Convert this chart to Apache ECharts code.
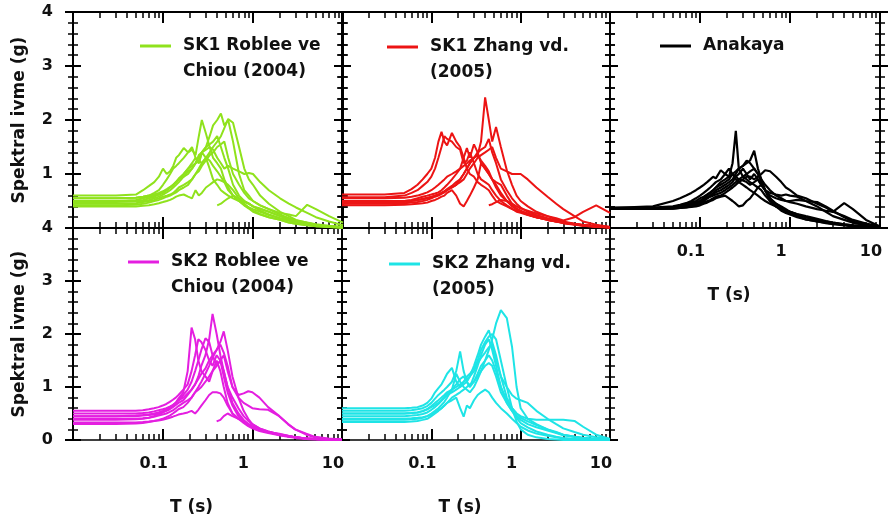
<!DOCTYPE html>
<html><head><meta charset="utf-8">
<script src="https://cdn.jsdelivr.net/npm/echarts@6/dist/echarts.min.js"></script>
<style>html,body{margin:0;padding:0;background:#fff}#c{width:888px;height:524px}</style>
</head><body><div id="c"></div>
<script>
// ---- data (periods in s, spectral acceleration in g) ----
const periods = [0.01,0.03,0.05,0.06,0.07,0.08,0.09,0.1,0.11,0.12,
  0.13,0.14,0.15,0.17,0.19,0.21,0.23,0.25,0.27,0.3,
  0.33,0.36,0.4,0.44,0.48,0.53,0.6,0.7,0.8,0.9,
  1,1.2,1.5,2,2.5,3,4,5,7,10];
const N = null;
const sk1Roblee = [
  [0.50,0.50,0.52,0.55,0.58,0.60,0.62,0.65,0.70,0.75,0.80,0.85,0.90,1.00,1.10,1.20,1.30,1.20,1.40,1.50,1.70,1.90,2.00,2.12,1.90,2.00,1.60,1.00,0.70,0.60,0.50,0.42,0.35,0.25,0.18,0.13,0.08,0.05,0.02,0.01],
  [0.55,0.55,0.56,0.58,0.60,0.65,0.70,0.80,0.90,1.00,1.10,1.15,1.20,1.30,1.40,1.45,1.35,1.70,2.00,1.75,1.50,1.30,1.20,1.10,0.90,0.75,0.60,0.50,0.42,0.36,0.30,0.25,0.20,0.15,0.10,0.08,0.05,0.03,0.02,0.01],
  [0.45,0.45,0.46,0.48,0.50,0.52,0.55,0.58,0.60,0.62,0.65,0.70,0.75,0.80,0.85,0.90,1.00,1.10,1.20,1.30,1.40,1.50,1.60,1.70,1.85,2.02,1.95,1.50,1.10,0.90,0.80,0.60,0.45,0.30,0.22,0.15,0.10,0.06,0.03,0.02],
  [0.60,0.60,0.62,0.70,0.78,0.85,0.95,1.10,1.00,1.05,1.15,1.30,1.35,1.48,1.40,1.50,1.30,1.20,1.40,1.30,1.10,0.90,0.80,0.70,0.65,0.60,0.55,0.50,0.48,0.45,0.40,0.35,0.30,0.22,0.18,0.14,0.10,0.07,0.04,0.02],
  [0.40,0.40,0.40,0.41,0.42,0.44,0.46,0.48,0.50,0.52,0.55,0.58,0.60,0.62,0.58,0.55,0.70,0.60,0.65,0.75,0.80,0.85,0.90,0.88,0.85,0.80,0.70,0.55,0.45,0.38,0.32,0.26,0.20,0.15,0.10,0.08,0.05,0.04,0.02,0.01],
  [0.50,0.50,0.50,0.52,0.55,0.58,0.62,0.66,0.70,0.75,0.80,0.85,0.90,0.95,1.00,1.10,1.20,1.30,1.40,1.45,1.50,1.45,1.30,1.20,1.10,1.15,1.10,1.05,1.00,1.02,1.00,0.85,0.70,0.55,0.45,0.38,0.28,0.20,0.12,0.05],
  [0.42,0.42,0.43,0.45,0.47,0.50,0.52,0.55,0.58,0.60,0.63,0.66,0.70,0.75,0.80,0.90,1.00,1.05,1.15,1.25,1.35,1.40,1.50,1.55,1.60,1.30,1.00,0.80,0.65,0.55,0.50,0.42,0.35,0.28,0.25,0.22,0.43,0.35,0.22,0.10],
  [0.48,0.48,0.49,0.50,0.52,0.55,0.58,0.62,0.66,0.70,0.75,0.80,0.85,0.95,1.05,1.10,1.20,1.35,1.40,1.50,1.55,1.60,1.70,1.50,1.30,1.10,0.80,0.60,0.50,0.45,0.40,0.32,0.25,0.18,0.14,0.10,0.07,0.05,0.03,0.01],
  [N,N,N,N,N,N,N,N,N,N,N,N,N,N,N,N,N,N,N,N,N,N,0.42,0.45,0.50,0.55,0.60,0.55,0.50,0.45,0.40,0.36,0.30,0.22,0.16,0.12,0.08,0.05,0.03,0.01],
  [0.55,0.55,0.56,0.58,0.60,0.62,0.65,0.68,0.72,0.76,0.80,0.86,0.92,1.00,1.10,1.15,1.20,1.25,1.20,1.30,1.25,1.15,1.05,0.95,0.85,0.70,0.60,0.50,0.42,0.38,0.35,0.30,0.24,0.18,0.14,0.10,0.07,0.05,0.03,0.02]
];
const sk1Zhang = [
  [0.50,0.50,0.50,0.51,0.52,0.53,0.55,0.57,0.60,0.62,0.65,0.68,0.70,0.75,0.80,0.90,1.00,1.10,1.20,1.30,1.35,1.60,2.42,2.00,1.60,1.87,1.50,1.07,0.80,0.60,0.50,0.40,0.30,0.22,0.16,0.12,0.08,0.05,0.03,0.01],
  [0.62,0.62,0.65,0.72,0.80,0.90,1.00,1.10,1.30,1.60,1.78,1.60,1.53,1.76,1.60,1.50,1.30,1.10,1.00,0.95,0.85,0.80,0.75,0.70,0.60,0.50,0.45,0.40,0.35,0.32,0.30,0.25,0.20,0.15,0.12,0.10,0.08,0.06,0.04,0.02],
  [0.57,0.57,0.60,0.65,0.70,0.78,0.85,0.95,1.10,1.30,1.50,1.70,1.65,1.60,1.50,1.45,1.20,1.25,1.40,1.20,1.00,0.90,0.85,0.80,0.70,0.60,0.50,0.42,0.36,0.30,0.28,0.24,0.20,0.16,0.12,0.10,0.07,0.05,0.03,0.02],
  [0.50,0.50,0.50,0.52,0.55,0.58,0.60,0.62,0.64,0.66,0.70,0.75,0.80,0.90,1.00,1.10,1.30,1.48,1.30,1.55,1.40,1.20,1.10,1.00,0.90,0.85,0.80,0.60,0.45,0.35,0.30,0.25,0.20,0.15,0.12,0.09,0.06,0.04,0.03,0.02],
  [0.45,0.45,0.46,0.47,0.48,0.50,0.52,0.55,0.58,0.60,0.63,0.66,0.70,0.75,0.80,0.85,0.90,1.00,1.10,1.20,1.30,1.35,1.40,1.45,1.50,1.30,1.10,1.05,1.00,1.00,1.00,0.90,0.75,0.58,0.45,0.35,0.22,0.12,0.06,0.02],
  [0.42,0.42,0.43,0.44,0.45,0.46,0.47,0.50,0.52,0.55,0.58,0.60,0.65,0.70,0.60,0.45,0.40,0.50,0.60,0.75,0.90,1.20,1.10,1.00,0.90,0.80,0.65,0.50,0.40,0.35,0.30,0.25,0.20,0.15,0.12,0.09,0.07,0.05,0.03,0.01],
  [0.48,0.48,0.48,0.50,0.52,0.54,0.56,0.58,0.60,0.62,0.65,0.68,0.72,0.78,0.85,0.90,1.00,1.10,1.20,1.30,1.40,1.45,1.50,1.65,1.40,1.20,0.90,0.70,0.55,0.45,0.38,0.30,0.24,0.18,0.14,0.10,0.07,0.04,0.02,0.01],
  [N,N,N,N,N,N,N,N,N,N,N,N,N,N,N,N,N,N,N,N,N,N,N,0.42,0.44,0.48,0.52,0.50,0.45,0.40,0.36,0.32,0.27,0.22,0.18,0.14,0.20,0.30,0.42,0.28],
  [0.55,0.55,0.56,0.58,0.60,0.63,0.66,0.70,0.75,0.80,0.85,0.90,0.95,1.00,1.05,1.10,1.15,1.20,1.25,1.30,1.35,1.25,1.15,1.05,0.90,0.75,0.60,0.50,0.42,0.36,0.32,0.27,0.22,0.17,0.13,0.10,0.07,0.05,0.03,0.01]
];
const anakaya = [
  [0.37,0.37,0.38,0.40,0.42,0.45,0.48,0.50,0.55,0.60,0.65,0.70,0.75,0.85,0.90,0.95,1.20,1.80,1.10,0.95,0.90,0.85,0.80,0.75,0.70,0.60,0.50,0.40,0.35,0.30,0.28,0.22,0.16,0.12,0.09,0.07,0.05,0.03,0.02,0.01],
  [0.36,0.36,0.37,0.38,0.40,0.42,0.45,0.48,0.50,0.55,0.60,0.65,0.70,0.75,0.80,0.85,0.90,1.00,1.10,1.15,1.20,1.25,1.43,1.10,0.90,0.70,0.55,0.45,0.40,0.35,0.30,0.25,0.20,0.15,0.12,0.09,0.06,0.04,0.02,0.01],
  [0.36,0.36,0.36,0.37,0.38,0.40,0.42,0.45,0.48,0.50,0.52,0.55,0.58,0.60,0.65,0.70,0.75,0.80,0.85,0.90,0.95,0.95,0.90,0.95,1.00,1.07,1.05,0.95,0.85,0.75,0.70,0.60,0.55,0.45,0.38,0.30,0.22,0.15,0.08,0.03],
  [0.37,0.40,0.50,0.55,0.60,0.65,0.70,0.75,0.80,0.85,0.90,0.95,0.92,1.07,1.00,0.95,1.00,0.90,0.85,0.80,0.75,0.70,0.65,0.60,0.55,0.50,0.45,0.40,0.35,0.32,0.30,0.25,0.20,0.15,0.12,0.10,0.07,0.05,0.03,0.01],
  [0.36,0.36,0.37,0.38,0.40,0.42,0.45,0.48,0.52,0.55,0.58,0.60,0.62,0.65,0.70,0.75,0.80,0.85,0.90,0.95,1.00,1.05,1.10,1.00,0.90,0.80,0.70,0.60,0.55,0.50,0.48,0.45,0.40,0.35,0.32,0.30,0.46,0.35,0.15,0.03],
  [0.36,0.36,0.36,0.37,0.38,0.39,0.40,0.42,0.45,0.47,0.50,0.52,0.55,0.58,0.60,0.55,0.50,0.45,0.40,0.42,0.50,0.55,0.65,0.75,0.80,0.70,0.50,0.40,0.32,0.28,0.25,0.20,0.16,0.12,0.10,0.08,0.06,0.04,0.02,0.01],
  [0.37,0.37,0.38,0.42,0.45,0.48,0.50,0.55,0.58,0.62,0.66,0.70,0.75,0.80,0.85,0.90,1.00,1.05,1.10,1.15,1.25,1.20,1.10,1.00,0.85,0.70,0.55,0.45,0.38,0.33,0.30,0.26,0.22,0.17,0.13,0.10,0.07,0.05,0.03,0.01],
  [0.38,0.38,0.40,0.43,0.46,0.50,0.55,0.60,0.65,0.70,0.75,0.80,0.85,0.90,1.00,1.10,1.00,0.95,0.90,0.88,0.85,0.80,0.85,0.90,0.80,0.70,0.65,0.62,0.60,0.62,0.60,0.58,0.50,0.40,0.30,0.22,0.15,0.10,0.05,0.02],
  [0.36,0.36,0.37,0.39,0.41,0.44,0.47,0.50,0.53,0.56,0.60,0.63,0.66,0.70,0.75,0.80,0.85,0.95,1.00,1.10,1.00,0.90,1.00,0.90,0.80,0.70,0.60,0.55,0.52,0.50,0.50,0.52,0.50,0.48,0.40,0.32,0.20,0.12,0.06,0.02]
];
const sk2Roblee = [
  [0.45,0.45,0.45,0.46,0.47,0.48,0.50,0.52,0.55,0.58,0.62,0.66,0.70,0.75,0.85,0.95,1.05,1.20,1.40,1.60,1.90,2.38,2.00,1.60,1.30,1.00,0.70,0.50,0.38,0.30,0.25,0.20,0.15,0.10,0.07,0.05,0.03,0.02,0.01,0.01],
  [0.38,0.38,0.39,0.40,0.42,0.45,0.48,0.52,0.56,0.60,0.65,0.70,0.78,0.90,1.30,2.12,1.90,1.50,1.30,1.20,1.10,1.30,1.50,1.30,1.00,0.70,0.50,0.40,0.32,0.26,0.22,0.17,0.13,0.09,0.06,0.04,0.02,0.01,0.01,0.00],
  [0.55,0.55,0.55,0.56,0.58,0.60,0.62,0.65,0.68,0.72,0.76,0.80,0.85,0.95,1.05,1.30,1.60,1.90,1.85,1.70,1.50,1.40,1.60,1.50,1.20,0.90,0.65,0.45,0.35,0.28,0.24,0.20,0.15,0.10,0.07,0.05,0.03,0.02,0.01,0.00],
  [0.30,0.30,0.31,0.32,0.34,0.36,0.38,0.40,0.43,0.46,0.50,0.54,0.58,0.62,0.70,0.80,0.90,1.00,1.10,1.25,1.40,1.55,1.70,1.85,2.05,1.70,1.20,0.80,0.55,0.40,0.30,0.22,0.16,0.11,0.08,0.05,0.03,0.02,0.01,0.00],
  [0.40,0.40,0.40,0.41,0.42,0.44,0.46,0.48,0.50,0.53,0.56,0.60,0.64,0.70,0.75,0.80,0.90,0.95,1.00,1.10,1.20,1.30,1.40,1.50,1.60,1.30,1.00,0.85,0.88,0.92,0.90,0.80,0.62,0.45,0.30,0.20,0.10,0.05,0.02,0.01],
  [0.33,0.33,0.33,0.34,0.35,0.36,0.37,0.38,0.40,0.42,0.44,0.46,0.48,0.50,0.52,0.55,0.50,0.57,0.65,0.75,0.85,0.90,0.90,0.88,0.80,0.65,0.50,0.40,0.35,0.30,0.26,0.20,0.15,0.10,0.07,0.05,0.03,0.02,0.01,0.00],
  [N,N,N,N,N,N,N,N,N,N,N,N,N,N,N,N,N,N,N,N,N,N,0.35,0.38,0.45,0.50,0.45,0.40,0.35,0.30,0.25,0.20,0.15,0.12,0.08,0.05,0.03,0.02,0.01,0.00],
  [0.45,0.45,0.46,0.47,0.48,0.50,0.52,0.55,0.58,0.62,0.66,0.70,0.75,0.80,0.88,0.95,1.05,1.15,1.25,1.35,1.50,1.60,1.70,1.80,1.65,1.40,1.00,0.80,0.70,0.65,0.60,0.58,0.57,0.45,0.30,0.20,0.12,0.06,0.03,0.01],
  [0.50,0.50,0.50,0.51,0.52,0.54,0.56,0.58,0.60,0.63,0.66,0.70,0.75,0.85,0.95,1.10,1.30,1.50,1.70,1.92,1.85,1.60,1.40,1.50,1.30,1.00,0.80,0.60,0.45,0.36,0.30,0.22,0.16,0.10,0.07,0.05,0.03,0.02,0.01,0.00]
];
const sk2Zhang = [
  [0.40,0.40,0.40,0.41,0.42,0.43,0.45,0.48,0.52,0.56,0.60,0.65,0.70,0.80,0.85,0.90,0.95,1.00,1.05,1.10,1.20,1.30,1.50,1.70,1.90,2.20,2.45,2.30,1.76,1.00,0.60,0.40,0.30,0.20,0.14,0.10,0.06,0.04,0.02,0.01],
  [0.50,0.50,0.50,0.51,0.52,0.54,0.58,0.64,0.70,0.75,0.80,0.85,0.90,0.95,1.00,1.05,1.10,1.15,1.20,1.40,1.60,1.80,1.95,2.07,1.85,1.60,1.20,0.80,0.60,0.50,0.42,0.35,0.28,0.20,0.15,0.10,0.06,0.04,0.02,0.01],
  [0.55,0.55,0.55,0.56,0.58,0.60,0.64,0.70,0.78,0.85,0.90,0.95,1.00,1.10,1.30,1.67,1.30,1.10,1.00,1.20,1.40,1.60,1.80,1.90,1.70,1.40,1.00,0.70,0.55,0.45,0.38,0.30,0.24,0.18,0.13,0.09,0.06,0.04,0.02,0.01],
  [0.60,0.60,0.60,0.61,0.62,0.65,0.70,0.78,0.90,0.98,1.05,1.15,1.25,1.36,1.10,1.00,1.05,1.10,1.00,1.10,1.25,1.40,1.50,1.60,1.50,1.30,1.00,0.75,0.60,0.50,0.45,0.40,0.38,0.38,0.38,0.38,0.36,0.25,0.10,0.02],
  [0.34,0.34,0.34,0.35,0.36,0.38,0.40,0.45,0.50,0.55,0.60,0.65,0.70,0.75,0.80,0.60,0.44,0.65,0.60,0.75,0.85,0.90,0.95,0.90,0.80,0.70,0.60,0.50,0.40,0.32,0.25,0.18,0.12,0.08,0.05,0.03,0.02,0.01,0.01,0.00],
  [0.45,0.45,0.45,0.46,0.47,0.49,0.52,0.57,0.62,0.68,0.74,0.80,0.85,0.90,0.95,1.00,1.10,1.20,1.25,1.35,1.50,1.70,1.85,1.95,2.00,1.90,1.50,1.00,0.60,0.35,0.20,0.10,0.05,0.02,0.01,0.00,0.00,0.00,0.00,0.00],
  [0.50,0.50,0.50,0.51,0.52,0.55,0.58,0.62,0.66,0.70,0.75,0.80,0.86,0.95,1.05,1.15,1.20,1.10,1.20,1.30,1.45,1.55,1.65,1.75,1.80,1.50,1.20,1.00,0.85,0.78,0.75,0.70,0.55,0.40,0.30,0.22,0.15,0.10,0.05,0.02],
  [0.38,0.38,0.38,0.39,0.40,0.42,0.45,0.50,0.55,0.60,0.66,0.72,0.80,0.95,1.25,1.10,1.00,0.95,0.90,1.00,1.15,1.30,1.40,1.45,1.40,1.20,0.90,0.70,0.55,0.42,0.32,0.24,0.16,0.10,0.06,0.04,0.02,0.01,0.00,0.00]
];
const xTickLabels = [0.1, 1, 10];
const majorPeriodTicks = [0.01, 0.1, 1, 10];
const minorPeriodTicks = [0.02,0.03,0.04,0.05,0.06,0.07,0.08,0.09,0.2,0.3,0.4,0.5,0.6,0.7,0.8,0.9,2,3,4,5,6,7,8,9];
const legendNames = ['SK1 Roblee ve\nChiou (2004)', 'SK1 Zhang vd.\n(2005)', 'Anakaya', 'SK2 Roblee ve\nChiou (2004)', 'SK2 Zhang vd.\n(2005)'];
const panelData = [sk1Roblee, sk1Zhang, anakaya, sk2Roblee, sk2Zhang];

// ---- layout / style ----
const colors = ['#8fe21c', '#ec1414', '#000000', '#e41ee0', '#1ee4e6'];
const lineWidths = [2, 2, 2.2, 2, 2];
const FONT = 'DejaVu Sans';
const panels = [
  {rect:[73,12,270,216], xLab:false, yLab:true, hideZero:true, legend:[140,7]},
  {rect:[342,12,268,216], xLab:false, yLab:false, legend:[387,8]},
  {rect:[610,12,270,216], xLab:true, yLab:false, legend:[660,33]},
  {rect:[73,228,269,212], xLab:true, yLab:true, legend:[128,223]},
  {rect:[342,228,268,212], xLab:true, yLab:false, legend:[389,225]}
];

const grids=[], xAxes=[], yAxes=[], series=[], legends=[];
const blk = '#000';
panels.forEach((p, i) => {
  grids.push({left:p.rect[0], top:p.rect[1], width:p.rect[2], height:p.rect[3]});
  const xBase = {type:'log', logBase:10, min:0.01, max:10, gridIndex:i, splitLine:{show:false}, axisLabel:{show:false}};
  const xi = xAxes.length;
  ['bottom','top'].forEach(pos => {
    const main = pos === 'bottom';
    xAxes.push(Object.assign({}, xBase, {
      position:pos,
      axisLine:{show:true, onZero:false, lineStyle:{color:blk, width: (i>=3 && main) ? 1.5 : 2}},
      axisTick:{show:true, inside:true, length:11, customValues:majorPeriodTicks, lineStyle:{color:blk, width:2}},
      axisLabel:(main && p.xLab) ? {show:true, customValues:xTickLabels, margin:16, padding:[0,18,0,0],
        fontFamily:FONT, fontWeight:'bold', fontSize:16, color:'#111',
        formatter: v => String(v)} : {show:false},
      name:(main && p.xLab) ? 'T (s)' : '', nameLocation:'middle', nameGap:59,
      nameTextStyle:{fontFamily:FONT, fontWeight:'bold', fontSize:17, color:'#111', padding:[0,32,0,0]}
    }));
    xAxes.push(Object.assign({}, xBase, {
      position:pos, axisLine:{show:false, onZero:false},
      axisTick:{show:true, inside:true, length:6, customValues:minorPeriodTicks, lineStyle:{color:blk, width:1.5}}
    }));
  });
  const yi = yAxes.length;
  const yBase = {type:'value', min:0, max:4, interval:1, gridIndex:i, splitLine:{show:false}, axisLabel:{show:false}};
  ['left','right'].forEach(pos => {
    [true,false].forEach(inside => {
      const withLab = pos==='left' && inside && p.yLab;
      yAxes.push(Object.assign({}, yBase, {
        position:pos,
        axisLine:{show:inside, onZero:false, lineStyle:{color:blk, width:2}},
        axisTick:{show:true, inside:inside, length:8, lineStyle:{color:blk, width:2}},
        minorTick:{show:true, splitNumber:5, length:5, lineStyle:{color:blk, width:1.5}},
        axisLabel: withLab ? {show:true, margin:20, fontFamily:FONT, fontWeight:'bold', fontSize:16, color:'#111',
          formatter: v => (p.hideZero && v===0) ? '' : String(v)} : {show:false},
        name: withLab ? 'Spektral ivme (g)' : '', nameLocation:'middle', nameRotate:90, nameGap:45,
        nameTextStyle:{fontFamily:FONT, fontWeight:'bold', fontSize:17, color:'#111'}
      }));
    });
  });
  panelData[i].forEach(curve => {
    const pts = [];
    curve.forEach((v,k) => { if (v !== null && periods[k] !== undefined) pts.push([periods[k], v]); });
    series.push({type:'line', name:legendNames[i], xAxisIndex:xi, yAxisIndex:yi, data:pts,
      symbol:'none', showSymbol:false, silent:true, animation:false, clip:true,
      lineStyle:{color:colors[i], width:lineWidths[i]}, itemStyle:{color:colors[i]}});
  });
  legends.push({data:[legendNames[i]], left:p.legend[0], top:p.legend[1], padding:0, itemWidth:31, itemHeight:3,
    icon:'rect', selectedMode:false, orient:'vertical',
    formatter: n => n.indexOf('\n') >= 0 ? ' \n' + n : n,
    textStyle:{fontFamily:FONT, fontWeight:'bold', fontSize:17, color:'#111', lineHeight:26, padding:[0,0,0,7]}});
});

const chart = echarts.init(document.getElementById('c'), null, {renderer:'canvas'});
chart.setOption({animation:false, backgroundColor:'#fff', grid:grids, xAxis:xAxes, yAxis:yAxes, legend:legends, series:series});
</script></body></html>
